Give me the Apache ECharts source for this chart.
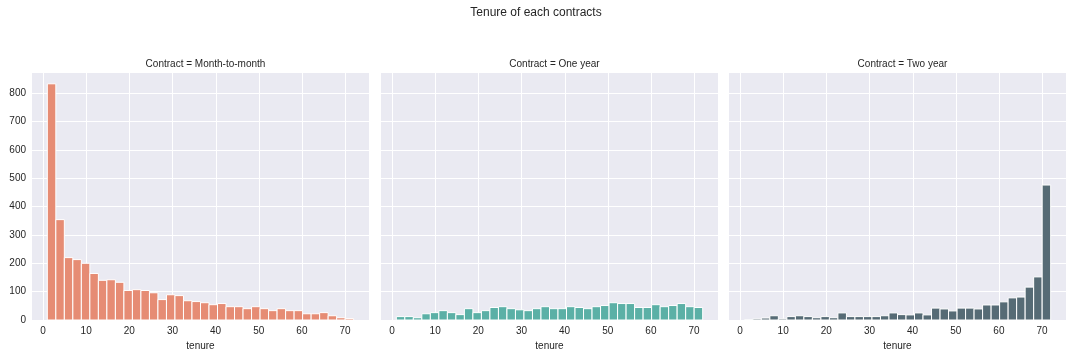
<!DOCTYPE html>
<html>
<head>
<meta charset="utf-8">
<script src="https://cdn.jsdelivr.net/npm/echarts@6/dist/echarts.min.js"></script>
<style>
html,body{margin:0;padding:0;background:#fff;}
#chart{width:1072px;height:356px;}
</style>
</head>
<body>
<div id="chart"></div>
<script>
// Histogram bins: 36 bins over tenure 1..72
const binStart = 1;
const binEnd = 72;
const binCount = 36;

const contracts = ['Month-to-month', 'One year', 'Two year'];
const monthToMonth = [833, 354, 220, 213, 200, 164, 140, 142, 133, 104, 107, 104, 96, 72, 89, 86, 68, 65, 61, 54, 58, 47, 47, 40, 47, 40, 33, 40, 33, 33, 22, 22, 26, 15, 8, 5];
const oneYear = [12, 12, 8, 22, 26, 33, 26, 19, 40, 26, 33, 44, 47, 40, 36, 33, 40, 47, 40, 40, 47, 44, 40, 47, 51, 61, 58, 58, 44, 44, 54, 47, 51, 58, 47, 44];
const twoYear = [1, 4, 7, 15, 4, 12, 15, 12, 8, 12, 8, 25, 12, 12, 12, 12, 15, 25, 19, 18, 25, 18, 42, 39, 32, 42, 42, 39, 53, 53, 64, 78, 81, 116, 152, 476];
const seriesValues = [monthToMonth, oneYear, twoYear];
const colors = ['#E68C74', '#5BB0A6', '#566B75'];
const xTicks = [0, 10, 20, 30, 40, 50, 60, 70];
const yTicks = [0, 100, 200, 300, 400, 500, 600, 700, 800];

const binWidth = (binEnd - binStart) / binCount;
const xMin = binStart - 0.05 * (binEnd - binStart);
const xMax = binEnd + 0.05 * (binEnd - binStart);
const yMax = Math.max(...monthToMonth, ...oneYear, ...twoYear) * 1.05;

const textColor = '#262626';
const font = 'Liberation Sans, Arial, sans-serif';
const lefts = [32, 381, 729];
const gridW = 337;
const gridTop = 72;
const gridH = 248;

const grids = [], xAxes = [], yAxes = [], series = [], titles = [];
titles.push({
  text: 'Tenure of each contracts', left: 'center', top: 2,
  textStyle: {fontFamily: font, fontSize: 12, fontWeight: 'normal', color: textColor}
});
contracts.forEach((c, i) => {
  grids.push({left: lefts[i], top: gridTop, width: gridW, height: gridH, show: true, backgroundColor: '#EAEAF2', borderWidth: 0});
  titles.push({
    text: 'Contract = ' + c, left: lefts[i] + gridW / 2, top: 54, textAlign: 'center',
    textStyle: {fontFamily: font, fontSize: 10, fontWeight: 'normal', color: textColor}
  });
  xAxes.push({
    type: 'value', gridIndex: i, min: xMin, max: xMax,
    name: 'tenure', nameLocation: 'middle', nameGap: 19,
    nameTextStyle: {fontFamily: font, fontSize: 10, color: textColor},
    axisLine: {show: false},
    axisTick: {show: false, customValues: xTicks},
    axisLabel: {
      fontFamily: font, fontSize: 10, color: textColor, margin: 6,
      customValues: xTicks
    },
    splitLine: {show: false}
  });
  yAxes.push({
    type: 'value', gridIndex: i, min: 0, max: yMax, interval: 100,
    axisLine: {show: false}, axisTick: {show: false},
    axisLabel: {
      show: i === 0, fontFamily: font, fontSize: 10, color: textColor, margin: 6,
      showMaxLabel: false,
      formatter: v => yTicks.includes(v) ? String(v) : ''
    },
    splitLine: {show: true, lineStyle: {color: '#ffffff', width: 1}}
  });
  // vertical grid lines at the x tick values
  series.push({
    type: 'custom', xAxisIndex: i, yAxisIndex: i, z: 1, silent: true,
    data: xTicks.map(v => [v]),
    encode: {x: 0},
    renderItem: (params, api) => {
      const a = api.coord([api.value(0), 0]);
      const b = api.coord([api.value(0), yMax]);
      const x = Math.round(a[0]) + 0.5;
      return {type: 'line', shape: {x1: x, y1: a[1], x2: x, y2: b[1]}, style: {stroke: '#ffffff', lineWidth: 1}};
    }
  });
  const data = seriesValues[i].map((v, k) => [binStart + k * binWidth, binStart + (k + 1) * binWidth, v]);
  series.push({
    type: 'custom', xAxisIndex: i, yAxisIndex: i, z: 2, data: data,
    encode: {x: [0, 1], y: 2},
    renderItem: (params, api) => {
      const p0 = api.coord([api.value(0), 0]);
      const p1 = api.coord([api.value(1), api.value(2)]);
      return {
        type: 'rect',
        shape: {x: p0[0], y: p1[1], width: p1[0] - p0[0], height: p0[1] - p1[1]},
        style: {fill: colors[i], stroke: '#ffffff', lineWidth: 1}
      };
    }
  });
});

const chart = echarts.init(document.getElementById('chart'), null, {renderer: 'canvas'});
chart.setOption({
  animation: false,
  backgroundColor: '#ffffff',
  title: titles,
  grid: grids,
  xAxis: xAxes,
  yAxis: yAxes,
  series: series
});
</script>
</body>
</html>
